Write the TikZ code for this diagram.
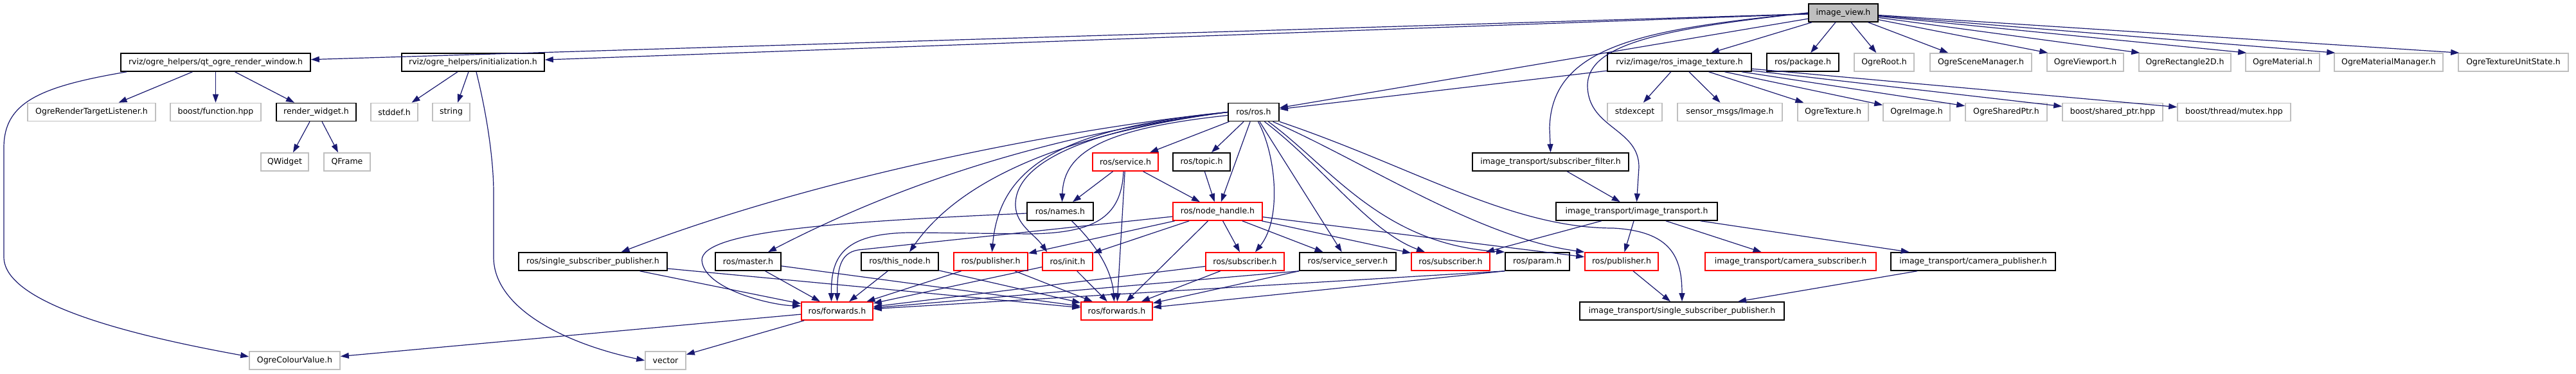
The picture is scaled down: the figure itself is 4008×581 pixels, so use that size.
\documentclass[tikz,border=0pt]{standalone}
\usepackage{fontspec}
\setmainfont{DejaVu Sans}
\usetikzlibrary{arrows.meta,calc}
\definecolor{edgeblue}{RGB}{25,25,112}
\definecolor{extgray}{RGB}{191,191,191}
\definecolor{truncred}{RGB}{255,0,0}
\definecolor{rootgray}{RGB}{191,191,191}
\begin{document}
\begin{tikzpicture}[x=1pt,y=-1pt,
  box/.style={draw=black, line width=1.6pt, fill=white, minimum height=28pt, inner sep=0pt, font=\fontsize{12.5pt}{15pt}\selectfont},
  ext/.style={box, draw=extgray},
  trunc/.style={box, draw=truncred},
  rootbox/.style={box, fill=rootgray},
  dep/.style={draw=edgeblue, line width=1.2pt, -{Triangle[length=13pt,width=9pt]}},
]
\useasboundingbox[fill=white] (0,0) rectangle (4008,581);

% row 0
\node[rootbox, minimum width=108pt] (iv) at (2868,20) {image\_view.h};
% row 1
\node[box, minimum width=295pt] (qtw) at (335.5,97) {rviz/ogre\_helpers/qt\_ogre\_render\_window.h};
\node[box, minimum width=222pt] (ini) at (736,97) {rviz/ogre\_helpers/initialization.h};
\node[box, minimum width=224pt] (rit) at (2613,97) {rviz/image/ros\_image\_texture.h};
\node[box, minimum width=112pt] (pkg) at (2805,97) {ros/package.h};
\node[ext, minimum width=93pt] (oroot) at (2931.5,97) {OgreRoot.h};
\node[ext, minimum width=158pt] (osm) at (3082,97) {OgreSceneManager.h};
\node[ext, minimum width=119pt] (ovp) at (3244.5,97) {OgreViewport.h};
\node[ext, minimum width=143pt] (orect) at (3399.5,97) {OgreRectangle2D.h};
\node[ext, minimum width=115pt] (omat) at (3551.5,97) {OgreMaterial.h};
\node[ext, minimum width=169pt] (omm) at (3716.5,97) {OgreMaterialManager.h};
\node[ext, minimum width=171pt] (otus) at (3910.5,97) {OgreTextureUnitState.h};
% row 2
\node[ext, minimum width=199pt] (ortl) at (142.5,174.5) {OgreRenderTargetListener.h};
\node[ext, minimum width=141pt] (bfun) at (335.5,174.5) {boost/function.hpp};
\node[box, minimum width=124pt] (rw) at (492,174.5) {render\_widget.h};
\node[ext, minimum width=73pt] (stddef) at (613.5,174.5) {stddef.h};
\node[ext, minimum width=58pt] (str) at (702,174.5) {string};
\node[box, minimum width=79pt] (rosh) at (1950.5,174.5) {ros/ros.h};
\node[ext, minimum width=85pt] (stdexc) at (2543.5,174.5) {stdexcept};
\node[ext, minimum width=163pt] (smi) at (2691.5,174.5) {sensor\_msgs/Image.h};
\node[ext, minimum width=110pt] (otex) at (2852,174.5) {OgreTexture.h};
\node[ext, minimum width=104pt] (oimg) at (2982,174.5) {OgreImage.h};
\node[ext, minimum width=127pt] (osp) at (3121.5,174.5) {OgreSharedPtr.h};
\node[ext, minimum width=156pt] (bsp) at (3287,174.5) {boost/shared\_ptr.hpp};
\node[ext, minimum width=176pt] (btm) at (3476,174.5) {boost/thread/mutex.hpp};
% row 3
\node[ext, minimum width=74pt] (qwid) at (443,252) {QWidget};
\node[ext, minimum width=72pt] (qfr) at (540,252) {QFrame};
\node[trunc, minimum width=102pt] (srv) at (1751,252) {ros/service.h};
\node[box, minimum width=89pt] (topic) at (1869.5,252) {ros/topic.h};
\node[box, minimum width=243pt] (sflt) at (2412.5,252) {image\_transport/subscriber\_filter.h};
% row 4
\node[box, minimum width=103pt] (names) at (1649.5,329) {ros/names.h};
\node[trunc, minimum width=139pt] (nh) at (1894.5,329) {ros/node\_handle.h};
\node[box, minimum width=251pt] (itr) at (2546.5,329) {image\_transport/image\_transport.h};
% row 5
\node[box, minimum width=231pt] (rssp) at (922.5,407) {ros/single\_subscriber\_publisher.h};
\node[box, minimum width=102pt] (master) at (1164,407) {ros/master.h};
\node[box, minimum width=120pt] (tn) at (1400,407) {ros/this\_node.h};
\node[trunc, minimum width=115pt] (pub1) at (1541.5,407) {ros/publisher.h};
\node[trunc, minimum width=78pt] (init) at (1661,407) {ros/init.h};
\node[trunc, minimum width=122pt] (sub1) at (1937,407) {ros/subscriber.h};
\node[box, minimum width=150pt] (ssrv) at (2097,407) {ros/service\_server.h};
\node[trunc, minimum width=122pt] (sub2) at (2257,407) {ros/subscriber.h};
\node[box, minimum width=100pt] (param) at (2392,407) {ros/param.h};
\node[trunc, minimum width=114pt] (pub2) at (2523,407) {ros/publisher.h};
\node[trunc, minimum width=266pt] (csub) at (2786,407) {image\_transport/camera\_subscriber.h};
\node[box, minimum width=256pt] (cpub) at (3070,407) {image\_transport/camera\_publisher.h};
% row 6
\node[trunc, minimum width=111pt] (f1) at (1302.5,484) {ros/forwards.h};
\node[trunc, minimum width=111pt] (f2) at (1737.5,484) {ros/forwards.h};
\node[box, minimum width=318pt] (itssp) at (2617,484) {image\_transport/single\_subscriber\_publisher.h};
% row 7
\node[ext, minimum width=141pt] (ocv) at (458.5,561) {OgreColourValue.h};
\node[ext, minimum width=63pt] (vec) at (1035.5,561) {vector};

% ---- edges from image_view.h
\draw[dep] (iv) -- (qtw);
\draw[dep] (iv) -- (ini);
\draw[dep] (iv) -- (rosh);
\draw[dep] (iv) -- (rit);
\draw[dep] (iv) -- (pkg);
\draw[dep] (iv) -- (oroot);
\draw[dep] (iv) -- ($(osm.north west)+(29,0)$);
\draw[dep] (iv) -- ($(ovp.north west)+(2,0)$);
\draw[dep] (iv) -- ($(orect.north west)+(2,0)$);
\draw[dep] (iv) -- ($(omat.north west)+(2,0)$);
\draw[dep] (iv) -- ($(omm.north west)+(2,0)$);
\draw[dep] (iv) -- ($(otus.north west)+(2,0)$);
\draw[dep] (iv.west) .. controls (2560,45) and (2413,70) .. (2411,200) -- (sflt.north);
\draw[dep] (iv.west) .. controls (2580,45) and (2468,70) .. (2470,135)
   .. controls (2472,200) and (2550,200) .. (2550,260) -- (itr.north);

% ---- qt_ogre_render_window.h
\draw[dep] ($(qtw.south)-(36,0)$) -- ($(ortl.north)+(42,0)$);
\draw[dep] (qtw.south) -- (bfun.north);
\draw[dep] ($(qtw.south)+(30,0)$) -- ($(rw.north)-(34,0)$);
\draw[dep] ($(qtw.south west)+(10,0)$) .. controls (60,135) and (6,160) .. (6,230) -- (6,400)
   .. controls (6,480) and (250,530) .. ($(ocv.west)+(0,-6)$);
\draw[dep] ($(rw.south)-(10,0)$) -- ($(qwid.north)+(13,0)$);
\draw[dep] ($(rw.south)+(9,0)$) -- ($(qfr.north)-(14,0)$);

% ---- initialization.h
\draw[dep] ($(ini.south)-(24,0)$) -- ($(stddef.north)+(27,0)$);
\draw[dep] ($(ini.south)-(7,0)$) -- ($(str.north)+(10,0)$);
\draw[dep] ($(ini.south)+(5,0)$) .. controls (758,180) and (768,250) .. (768,300) -- (768,400)
   .. controls (768,480) and (880,535) .. (vec.west);

% ---- ros_image_texture.h
\draw[dep] (rit) -- (rosh);
\draw[dep] (rit) -- (stdexc);
\draw[dep] (rit) -- (smi);
\draw[dep] (rit) -- (otex);
\draw[dep] (rit) -- (oimg);
\draw[dep] (rit) -- (osp);
\draw[dep] (rit) -- (bsp);
\draw[dep] (rit) -- (btm);

% ---- ros/ros.h
\draw[dep] (rosh) -- (srv);
\draw[dep] (rosh) -- (topic);
\draw[dep] (rosh) -- (nh);
\draw[dep] ($(rosh.south)+(7,0)$) .. controls (1985,240) and (1995,340) .. ($(sub1.north)+(16,0)$);
\draw[dep] ($(rosh.west)+(0,5)$) .. controls (1720,200) and (1655,235) .. ($(names.north)+(3,0)$);
\draw[dep] (rosh.west) .. controls (1700,195) and (1300,265) .. ($(rssp.north)+(44,0)$);
\draw[dep] (rosh.west) .. controls (1700,200) and (1450,260) .. ($(master.north)+(31,0)$);
\draw[dep] (rosh.west) .. controls (1680,205) and (1500,270) .. ($(tn.north)+(15,0)$);
\draw[dep] (rosh.west) .. controls (1650,200) and (1555,260) .. ($(pub1.north)+(2,0)$);
\draw[dep] (rosh.west) .. controls (1700,200) and (1578,250) .. (1580,320)
   .. controls (1581,350) and (1610,365) .. ($(init.north west)+(8,0)$);
\draw[dep] (rosh) -- (ssrv);
\draw[dep] ($(rosh.south)+(17,0)$) .. controls (2060,260) and (2130,360) .. ($(sub2.north)-(40,0)$);
\draw[dep] ($(rosh.south)+(23,0)$) .. controls (2070,260) and (2150,380) .. (param.north west);
\draw[dep] ($(rosh.south)+(30,0)$) .. controls (2120,250) and (2300,370) .. (pub2.north west);
\draw[dep] (rosh.south east) .. controls (2200,260) and (2350,355) .. (2510,355)
   .. controls (2600,360) and (2617,400) .. (itssp.north);

% ---- ros/service.h
\draw[dep] (srv) -- (names);
\draw[dep] (srv) -- (nh);
\draw[dep] (srv) -- (f2);
\draw[dep] ($(srv.south)-(3,0)$) .. controls (1745,340) and (1700,363) .. (1600,364) -- (1430,362)
   .. controls (1310,360) and (1293,400) .. ($(f1.north)-(9,0)$);

% ---- ros/topic.h, ros/names.h
\draw[dep] (topic) -- (nh);
\draw[dep] ($(names.south)+(18,0)$) .. controls (1705,380) and (1730,420) .. ($(f2.north)-(4,0)$);
\draw[dep] ($(names.west)+(0,3)$) .. controls (1300,345) and (1092,360) .. (1092,405)
   .. controls (1095,450) and (1200,475) .. ($(f1.west)+(0,-8)$);

% ---- ros/node_handle.h
\draw[dep] (nh) -- (pub1);
\draw[dep] (nh) -- (init);
\draw[dep] (nh) -- (f2);
\draw[dep] (nh) -- (sub1);
\draw[dep] (nh) -- (ssrv);
\draw[dep] (nh) -- (sub2);
\draw[dep] (nh) -- (pub2);
\draw[dep] ($(nh.west)+(0,8)$) -- (1335,389) .. controls (1306,394) and (1303,420) .. (f1.north);

% ---- into ros/forwards.h
\draw[dep] (rssp) -- (f1);
\draw[dep] (rssp) -- (f2);
\draw[dep] (master) -- (f1);
\draw[dep] (master) -- (f2);
\draw[dep] (tn) -- (f1);
\draw[dep] (tn) -- (f2);
\draw[dep] (pub1) -- (f1);
\draw[dep] (pub1) -- (f2);
\draw[dep] (init) -- (f1);
\draw[dep] (init) -- (f2);
\draw[dep] (sub1) -- (f1);
\draw[dep] (sub1) -- (f2);
\draw[dep] (ssrv.south west) -- (f1);
\draw[dep] (ssrv.south west) -- (f2);
\draw[dep] (param.south west) -- (f1);
\draw[dep] (param.south west) -- (f2);

% ---- ros/forwards.h
\draw[dep] (f1) -- (ocv);
\draw[dep] (f1) -- (vec);

% ---- image_transport
\draw[dep] (sflt) -- (itr);
\draw[dep] (itr) -- (sub2);
\draw[dep] (itr) -- (pub2);
\draw[dep] (itr) -- (csub);
\draw[dep] (itr) -- (cpub);
\draw[dep] (pub2) -- (itssp);
\draw[dep] (cpub) -- (itssp);
\end{tikzpicture}
\end{document}
